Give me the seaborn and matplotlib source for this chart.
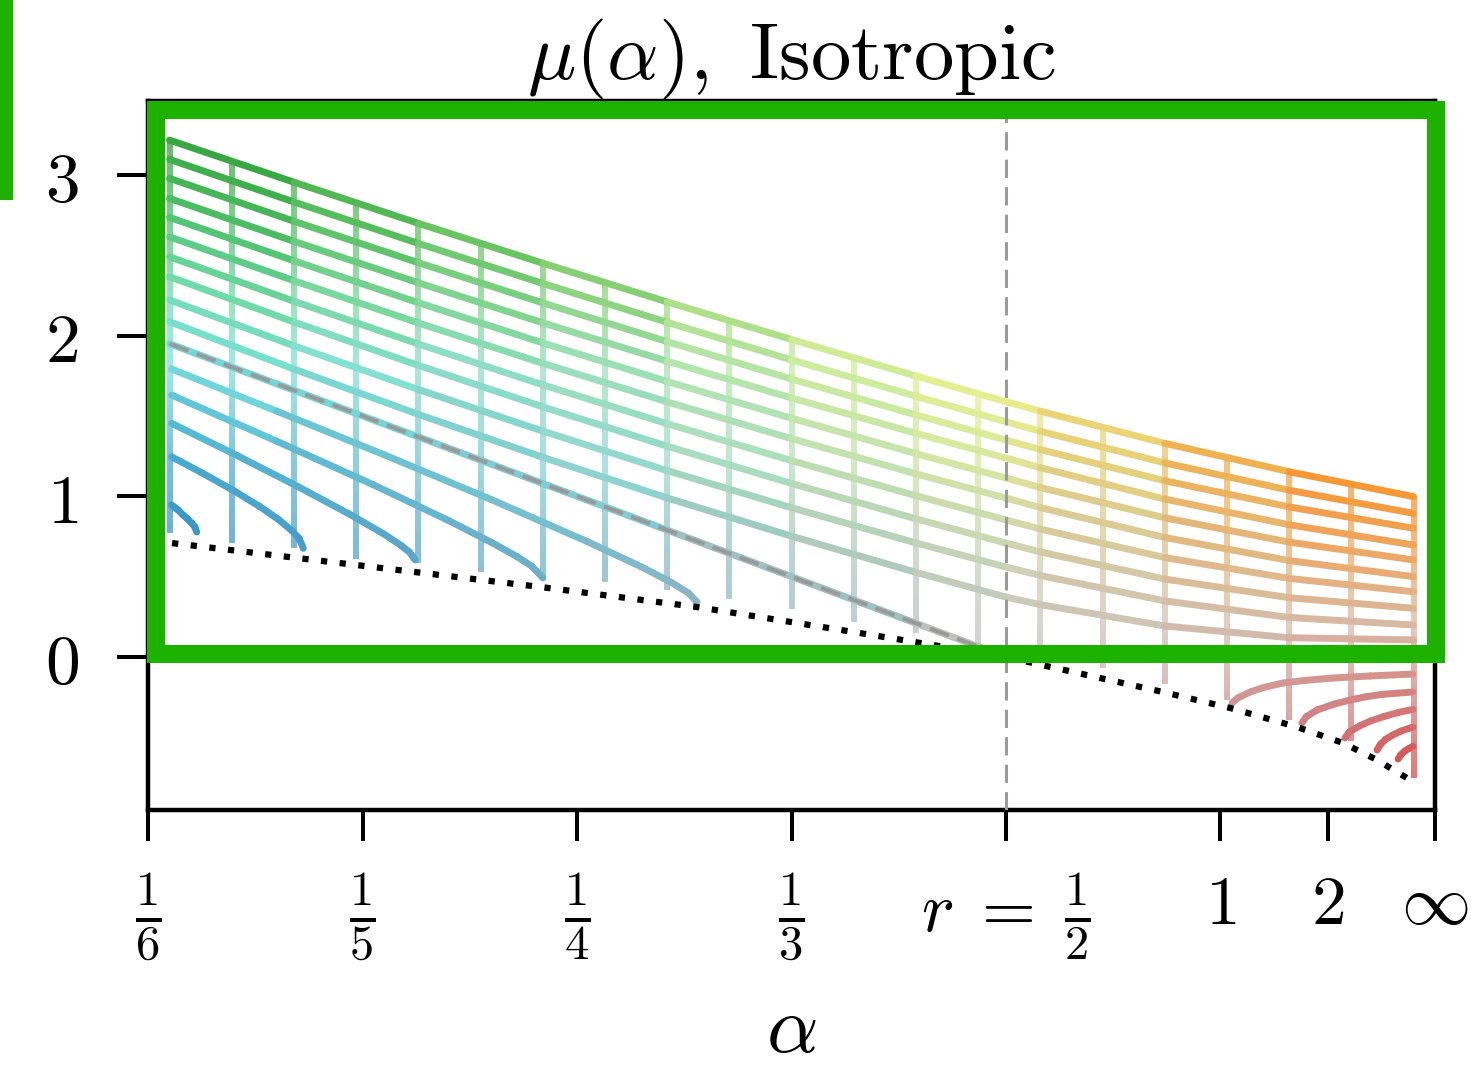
import numpy as np
import matplotlib
matplotlib.use("Agg")
import matplotlib.pyplot as plt
from matplotlib.collections import LineCollection
from matplotlib.patches import Rectangle
import seaborn as sns

# x coordinate is t = -1/alpha, so alpha = 1/6 ... inf maps to -6 ... 0

# vertical grid lines (constant alpha): position, top and bottom value of mu
vert_t = [-5.90, -5.61, -5.32, -5.03, -4.74, -4.45, -4.16, -3.87, -3.58, -3.29, -3.00,
          -2.71, -2.42, -2.13, -1.84, -1.55, -1.26, -0.97, -0.68, -0.39, -0.10]
vert_top = [3.22, 3.09, 2.96, 2.83, 2.70, 2.58, 2.45, 2.33, 2.21, 2.09, 1.97,
            1.86, 1.75, 1.64, 1.54, 1.43, 1.33, 1.24, 1.15, 1.07, 1.00]
vert_bottom = [0.77, 0.71, 0.68, 0.61, 0.585, 0.53, 0.50, 0.465, 0.415, 0.36, 0.30,
               0.22, 0.15, 0.08, 0.03, -0.07, -0.17, -0.27, -0.39, -0.52, -0.75]

# upper family of curves, spanning the whole alpha range
upper_t = [-5.90, -5.32, -4.74, -4.16, -3.58, -3.00, -2.42, -2.00, -1.84, -1.26, -0.68, -0.10]
upper_mu = [
    [3.217, 2.955, 2.699, 2.451, 2.210, 1.976, 1.749, 1.589, 1.530, 1.330, 1.153, 0.998],
    [3.097, 2.832, 2.574, 2.325, 2.083, 1.849, 1.623, 1.464, 1.405, 1.208, 1.038, 0.894],
    [2.979, 2.712, 2.454, 2.204, 1.963, 1.730, 1.507, 1.350, 1.291, 1.097, 0.934, 0.801],
    [2.854, 2.587, 2.329, 2.080, 1.841, 1.612, 1.392, 1.238, 1.178, 0.983, 0.823, 0.697],
    [2.736, 2.466, 2.205, 1.955, 1.715, 1.486, 1.266, 1.114, 1.055, 0.866, 0.715, 0.604],
    [2.615, 2.342, 2.079, 1.828, 1.588, 1.359, 1.140, 0.989, 0.930, 0.744, 0.600, 0.500],
    [2.491, 2.214, 1.948, 1.694, 1.452, 1.222, 1.004, 0.853, 0.796, 0.619, 0.489, 0.406],
    [2.367, 2.085, 1.815, 1.557, 1.312, 1.080, 0.860, 0.709, 0.654, 0.485, 0.369, 0.303],
    [2.222, 1.937, 1.665, 1.406, 1.160, 0.929, 0.710, 0.560, 0.507, 0.349, 0.246, 0.199],
    [2.087, 1.792, 1.510, 1.243, 0.990, 0.752, 0.527, 0.373, 0.326, 0.193, 0.120, 0.106],
]

# separatrix (drawn coloured, with grey dashes on top)
sep_t = [-5.90, -4.74, -3.58, -2.42, -2.00]
sep_mu = [1.95, 1.37, 0.79, 0.21, 0.00]

# lower-left curves ending on the boundary
blue_t = [
    [-5.89, -5.40, -4.90, -4.40, -3.95, -3.70, -3.56, -3.48, -3.441],
    [-5.89, -5.40, -4.95, -4.60, -4.40, -4.28, -4.21, -4.159],
    [-5.89, -5.60, -5.30, -5.05, -4.90, -4.82, -4.78, -4.755],
    [-5.89, -5.75, -5.60, -5.48, -5.39, -5.33, -5.296, -5.276],
    [-5.89, -5.86, -5.837, -5.815, -5.796, -5.782, -5.773],
]
blue_mu = [
    [1.792, 1.530, 1.259, 0.980, 0.717, 0.561, 0.464, 0.398, 0.342],
    [1.630, 1.343, 1.072, 0.850, 0.714, 0.625, 0.564, 0.492],
    [1.454, 1.264, 1.060, 0.881, 0.765, 0.694, 0.651, 0.604],
    [1.246, 1.147, 1.035, 0.937, 0.854, 0.787, 0.739, 0.676],
    [0.946, 0.915, 0.884, 0.858, 0.832, 0.810, 0.778],
]

# lower-right curves starting on the boundary
red_t = [
    [-0.946, -0.920, -0.862, -0.800, -0.709, -0.600, -0.476, -0.300, -0.103],
    [-0.620, -0.600, -0.550, -0.470, -0.396, -0.320, -0.242, -0.103],
    [-0.420, -0.400, -0.350, -0.300, -0.242, -0.170, -0.103],
    [-0.270, -0.255, -0.230, -0.200, -0.160, -0.103],
    [-0.172, -0.160, -0.140, -0.120, -0.103],
]
red_mu = [
    [-0.286, -0.255, -0.218, -0.190, -0.162, -0.145, -0.131, -0.118, -0.106],
    [-0.411, -0.372, -0.330, -0.293, -0.268, -0.247, -0.232, -0.218],
    [-0.504, -0.468, -0.428, -0.398, -0.372, -0.345, -0.326],
    [-0.579, -0.545, -0.512, -0.488, -0.462, -0.436],
    [-0.635, -0.610, -0.585, -0.568, -0.556],
]

# boundary (dotted)
bound_t = [-5.888, -4.172, -3.441, -2.713, -2.000, -1.268, -0.956, -0.643, -0.429, -0.270, -0.131]
bound_mu = [0.709, 0.436, 0.311, 0.156, 0.000, -0.218, -0.317, -0.436, -0.535, -0.641, -0.753]

xtick_pos = [-6, -5, -4, -3, -2, -1, -0.5, 0]
xtick_labels = [r"$\frac{1}{6}$", r"$\frac{1}{5}$", r"$\frac{1}{4}$", r"$\frac{1}{3}$",
                r"$r\;=\;\frac{1}{2}$", r"$1$", r"$2$", r"$\infty$"]
ytick_pos = [0, 1, 2, 3]
ytick_labels = [r"$0$", r"$1$", r"$2$", r"$3$"]

# 2d colour field used for the grid (anchors over t and mu)
anchor_t = [-6, -4, -2, 0]
anchor_mu = [-0.8, -0.3, 0.2, 0.7, 1.2, 1.8, 2.2, 2.7, 3.2]
anchor_rgb = np.array([
    [(30, 110, 180), (35, 120, 185), (40, 130, 190), (45, 140, 195), (65, 165, 205),
     (115, 225, 230), (110, 222, 185), (70, 190, 110), (45, 160, 55)],
    [(120, 130, 185), (115, 150, 190), (110, 165, 195), (120, 185, 205), (140, 215, 215),
     (150, 222, 190), (135, 210, 130), (105, 190, 75), (80, 170, 55)],
    [(205, 150, 165), (205, 175, 180), (200, 200, 192), (208, 215, 180), (222, 232, 155),
     (240, 245, 135), (238, 245, 115), (232, 242, 95), (225, 240, 75)],
    [(215, 60, 60), (210, 118, 118), (220, 183, 160), (245, 155, 75), (255, 127, 12),
     (255, 127, 12), (255, 125, 10), (255, 125, 10), (255, 125, 10)],
]) / 255.0


def field_color(t, mu):
    cols = np.array([[np.interp(mu, anchor_mu, anchor_rgb[k, :, c]) for c in range(3)]
                     for k in range(len(anchor_t))])
    return [float(np.interp(t, anchor_t, cols[:, c])) for c in range(3)]


def draw_curve(ax, ts, mus, lw=5.0, zorder=3):
    pts = np.column_stack([ts, mus])
    segs = np.stack([pts[:-1], pts[1:]], axis=1)
    cols = [field_color(*(0.5 * (a + b))) for a, b in zip(pts[:-1], pts[1:])]
    lc = LineCollection(segs, colors=cols, linewidths=lw, capstyle="round", zorder=zorder)
    ax.add_collection(lc)


sns.set_theme(style="ticks")
plt.rcParams["mathtext.fontset"] = "cm"
plt.rcParams["text.color"] = "black"
plt.rcParams["axes.labelcolor"] = "black"
plt.rcParams["xtick.color"] = "black"
plt.rcParams["ytick.color"] = "black"

fig = plt.figure(figsize=(14.76, 10.67), dpi=100)
ax = fig.add_axes([0.1003, 0.2409, 0.8719, 0.6644])

# vertical lines drawn as thin gradient strips
half_w = 0.0135
for t, top, bot in zip(vert_t, vert_top, vert_bottom):
    mus = np.linspace(bot, top, 64)
    strip = np.array([field_color(t, m) for m in mus]).reshape(64, 1, 3)
    ax.imshow(strip, extent=[t - half_w, t + half_w, bot, top], origin="lower",
              aspect="auto", alpha=0.72, interpolation="bilinear", zorder=2)

for mus in upper_mu:
    draw_curve(ax, upper_t, mus)
draw_curve(ax, sep_t, sep_mu)
for ts, mus in zip(blue_t, blue_mu):
    draw_curve(ax, ts, mus)
for ts, mus in zip(red_t, red_mu):
    draw_curve(ax, ts, mus)

# separatrix and boundary
sns.lineplot(x=sep_t, y=sep_mu, ax=ax, color="#999999", lw=2.9, sort=False, zorder=4)
ax.lines[-1].set_dashes([5, 2.2])
sns.lineplot(x=bound_t, y=bound_mu, ax=ax, color="black", lw=4.5, sort=False, zorder=4)
ax.lines[-1].set_dashes([1, 2])
ax.axvline(-2, color="#9a9a9a", lw=2.2, dashes=(6, 3), zorder=4)

ax.set_xlim(-6, 0)
ax.set_ylim(-0.952, 3.46)
ax.set_xticks(xtick_pos)
ax.set_xticklabels(xtick_labels)
ax.set_yticks(ytick_pos)
ax.set_yticklabels(ytick_labels)
ax.tick_params(axis="both", labelsize=50, length=22, width=2.9, color="black",
               labelcolor="black")
ax.tick_params(axis="y", pad=28)
ax.tick_params(axis="x", pad=22)
for side in ["left", "bottom", "right", "top"]:
    ax.spines[side].set_color("black")
    ax.spines[side].set_linewidth(3.2)

ax.set_title(r"$\mu(\alpha),\ \mathrm{Isotropic}$", fontsize=58, pad=15, color="black")
ax.set_xlabel(r"$\alpha$", fontsize=58, labelpad=20)

# highlight boxes
ax.add_patch(Rectangle((0.0062, 0.220), 0.9946, 0.767, transform=ax.transAxes, fill=False,
                       edgecolor="#1eb200", lw=13, joinstyle="miter", clip_on=False, zorder=10))
fig.patches.append(Rectangle((-0.5, 0.821), 0.5025, 1.0, transform=fig.transFigure, fill=False,
                             edgecolor="#1eb200", lw=13, joinstyle="miter"))

fig.savefig("out.png", dpi=100)
